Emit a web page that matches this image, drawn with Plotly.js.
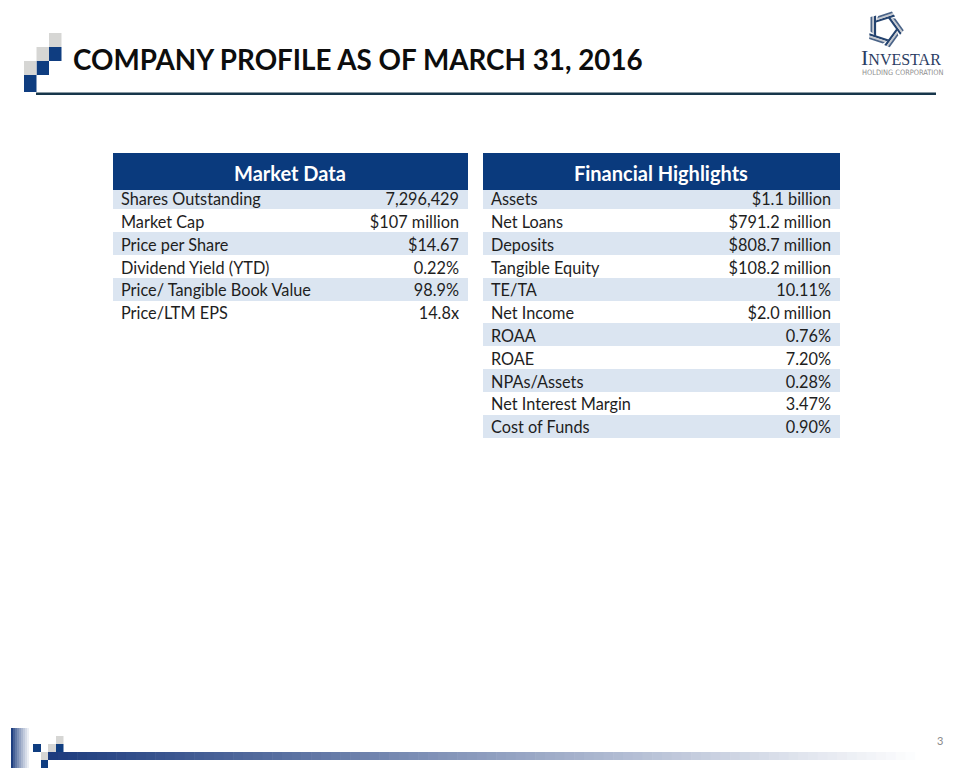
<!DOCTYPE html>
<html><head><meta charset="utf-8">
<script src="https://cdn.plot.ly/plotly-3.0.1.min.js"></script>
<style>html,body{margin:0;padding:0;background:#fff}</style>
</head><body><div id="chart" style="width:960px;height:768px"></div>
<script>
// ---- data ----
const pageTitle = "COMPANY PROFILE AS OF MARCH 31, 2016";
const marketTitle = "Market Data";
const marketLabels = ["Shares Outstanding", "Market Cap", "Price per Share", "Dividend Yield (YTD)", "Price/ Tangible Book Value", "Price/LTM EPS"];
const marketValues = ["7,296,429", "$107 million", "$14.67", "0.22%", "98.9%", "14.8x"];
const finTitle = "Financial Highlights";
const finLabels = ["Assets", "Net Loans", "Deposits", "Tangible Equity", "TE/TA", "Net Income", "ROAA", "ROAE", "NPAs/Assets", "Net Interest Margin", "Cost of Funds"];
const finValues = ["$1.1 billion", "$791.2 million", "$808.7 million", "$108.2 million", "10.11%", "$2.0 million", "0.76%", "7.20%", "0.28%", "3.47%", "0.90%"];
const pageNumber = "3";

// ---- style ----
const W = 960, H = 768;
const px = x => x / W, py = y => 1 - y / H;
const NAVY = "#0a3a7d", LIGHT = "#dbe5f1", GRAY = "#d6d6d4", SQNAVY = "#0f3d80";
const FONT = "Lato, 'Open Sans', sans-serif";
const HEAD_H = 34, ROW_H = 22.8, TOP = 153, TEXT_LIFT = 2;
const CLEAR = "rgba(0,0,0,0)";

function rowFills(n) { const a = []; for (let i = 0; i < n; i++) a.push(i % 2 === 0 ? LIGHT : "#ffffff"); return a; }

// fills layer (blank cells) and text layer (transparent, lifted slightly)
function bodyTable(x0, x1, labels, values, widths, textLayer) {
  const f = rowFills(labels.length);
  const lift = textLayer ? TEXT_LIFT : 0;
  const blank = labels.map(() => "");
  return {
    type: "table",
    domain: { x: [px(x0), px(x1)], y: [py(TOP - lift + HEAD_H + labels.length * ROW_H + 8), py(TOP - lift)] },
    columnwidth: widths,
    header: { values: ["", ""], height: HEAD_H, fill: { color: textLayer ? CLEAR : NAVY }, line: { color: textLayer ? CLEAR : NAVY, width: 1 } },
    cells: {
      values: textLayer ? [labels, values] : [blank, blank], height: ROW_H, align: ["left", "right"],
      fill: { color: textLayer ? CLEAR : [f, f] },
      line: { color: textLayer ? CLEAR : [f, f], width: 1 },
      font: { family: FONT, size: 16.3, color: "#1e1e1e" }
    }
  };
}
function headTable(x0, x1, title) {
  return {
    type: "table",
    domain: { x: [px(x0), px(x1)], y: [py(TOP + HEAD_H + 4), py(TOP)] },
    columnwidth: [1],
    header: { values: ["<b>" + title + "</b>"], height: HEAD_H, align: "center",
      fill: { color: NAVY }, line: { color: NAVY, width: 1 },
      font: { family: FONT, size: 20, color: "#ffffff" } },
    cells: { values: [[]] }
  };
}

const traces = [
  bodyTable(113, 468, marketLabels, marketValues, [240, 115], false),
  bodyTable(483, 840, finLabels, finValues, [210, 147], false),
  bodyTable(113, 468, marketLabels, marketValues, [240, 115], true),
  bodyTable(483, 840, finLabels, finValues, [210, 147], true),
  headTable(113, 468, marketTitle),
  headTable(483, 840, finTitle)
];

// ---- decorations ----
const shapes = [];
function rect(x0, y0, x1, y1, color) {
  shapes.push({ type: "rect", xref: "paper", yref: "paper", x0: px(x0), x1: px(x1), y0: py(y1), y1: py(y0), fillcolor: color, line: { width: 0 }, layer: "above" });
}
// top-left staircase
rect(49, 33, 61.5, 47, GRAY); rect(49, 47, 61.5, 61, SQNAVY);
rect(36.5, 47, 49, 61, GRAY); rect(36.5, 61, 49, 75, SQNAVY);
rect(24, 61, 36.5, 75, GRAY); rect(24, 75, 36.5, 92, SQNAVY);
// title rule
rect(36, 92.5, 936, 95, "#17364b");

function mix(c1, c2, t) {
  const a = [parseInt(c1.slice(1, 3), 16), parseInt(c1.slice(3, 5), 16), parseInt(c1.slice(5, 7), 16)];
  const b = [parseInt(c2.slice(1, 3), 16), parseInt(c2.slice(3, 5), 16), parseInt(c2.slice(5, 7), 16)];
  return "rgb(" + a.map((v, i) => Math.round(v + (b[i] - v) * t)).join(",") + ")";
}
// footer vertical gradient bar
for (let i = 0; i < 10; i++) rect(11 + i * 2, 728, 13.2 + i * 2, 768, mix("#1f3f80", "#ffffff", Math.pow(i / 9, 0.8)));
// footer horizontal gradient bar
const steps = 90, bx0 = 48, bx1 = 925;
for (let i = 0; i < steps; i++) {
  const xa = bx0 + (bx1 - bx0) * i / steps, xb = bx0 + (bx1 - bx0) * (i + 1) / steps + 0.6;
  rect(xa, 752, xb, 760, mix("#1d3c7e", "#ffffff", i / (steps - 1)));
}
// footer squares
rect(33, 744, 41, 752, SQNAVY); rect(48, 744, 56, 752, GRAY);
rect(56, 736, 63.5, 744, GRAY); rect(56, 744, 63.5, 752, SQNAVY);
rect(41, 752, 48, 760, GRAY); rect(41, 760, 48, 768, SQNAVY);

// logo star: pinwheel of 5 striped bars along the sides of a pentagon
const cx = 885, cy = 29, R = 11;
function toPaper(p) { return px(p[0]) + "," + py(p[1]); }
const verts = [];
for (let k = 0; k < 5; k++) { const a = (-90 + 18 + k * 72) * Math.PI / 180; verts.push([cx + R * Math.cos(a), cy + R * Math.sin(a)]); }
for (let k = 0; k < 5; k++) {
  const P = verts[k], Q = verts[(k + 1) % 5];
  const dx = Q[0] - P[0], dy = Q[1] - P[1], L = Math.hypot(dx, dy);
  const ux = dx / L, uy = dy / L;
  const ox = uy, oy = -ux;
  const S = [P[0] - ux * 1, P[1] - uy * 1], E = [Q[0] + ux * 7, Q[1] + uy * 7];
  const bands = [[0, 2.2, "#24436f"], [2.2, 3.8, "#c5c8ce"], [3.8, 5.6, "#4b6488"]];
  bands.forEach(b => {
    const [o1, o2, col] = b;
    const sh1 = o1 * 0.9, sh2 = o2 * 0.9;
    const p = [
      [S[0] + ox * o1 + ux * sh1, S[1] + oy * o1 + uy * sh1],
      [E[0] + ox * o1 - ux * sh1 * 0.3, E[1] + oy * o1 - uy * sh1 * 0.3],
      [E[0] + ox * o2 - ux * sh2 * 0.3, E[1] + oy * o2 - uy * sh2 * 0.3],
      [S[0] + ox * o2 + ux * sh2, S[1] + oy * o2 + uy * sh2]
    ];
    shapes.push({ type: "path", xref: "paper", yref: "paper",
      path: "M" + p.map(toPaper).join(" L") + " Z", fillcolor: col, line: { width: 0 } });
  });
}

const annotations = [
  { text: "<span style='font-size:22px'>I</span>NVESTAR", xref: "paper", yref: "paper", x: px(860), y: py(71), xanchor: "left", yanchor: "bottom",
    showarrow: false, borderpad: 0, font: { family: "'Liberation Serif', 'DejaVu Serif', serif", size: 16, color: "#2b3d63" } },
  { text: "HOLDING CORPORATION", xref: "paper", yref: "paper", x: px(861), y: py(72.5), xanchor: "left", yanchor: "middle",
    showarrow: false, borderpad: 0, font: { family: "'Liberation Sans Narrow', 'DejaVu Sans Condensed', 'Liberation Sans', sans-serif", size: 7.4, color: "#8f8f8f" } },
  { text: pageNumber, xref: "paper", yref: "paper", x: px(940), y: py(740), xanchor: "center", yanchor: "middle",
    showarrow: false, font: { family: FONT, size: 11, color: "#8a8a8a" } }
];

const layout = {
  width: W, height: H, margin: { l: 0, r: 0, t: 0, b: 0 },
  paper_bgcolor: "#ffffff", plot_bgcolor: "#ffffff",
  title: { text: "<b>" + pageTitle + "</b>", x: px(73), xref: "paper", xanchor: "left", y: py(60), yref: "paper", yanchor: "middle",
    font: { family: FONT, size: 27.8, color: "#0d0d0d" } },
  shapes: shapes, annotations: annotations, showlegend: false
};
Plotly.newPlot("chart", traces, layout, { staticPlot: true, displayModeBar: false });
</script></body></html>
